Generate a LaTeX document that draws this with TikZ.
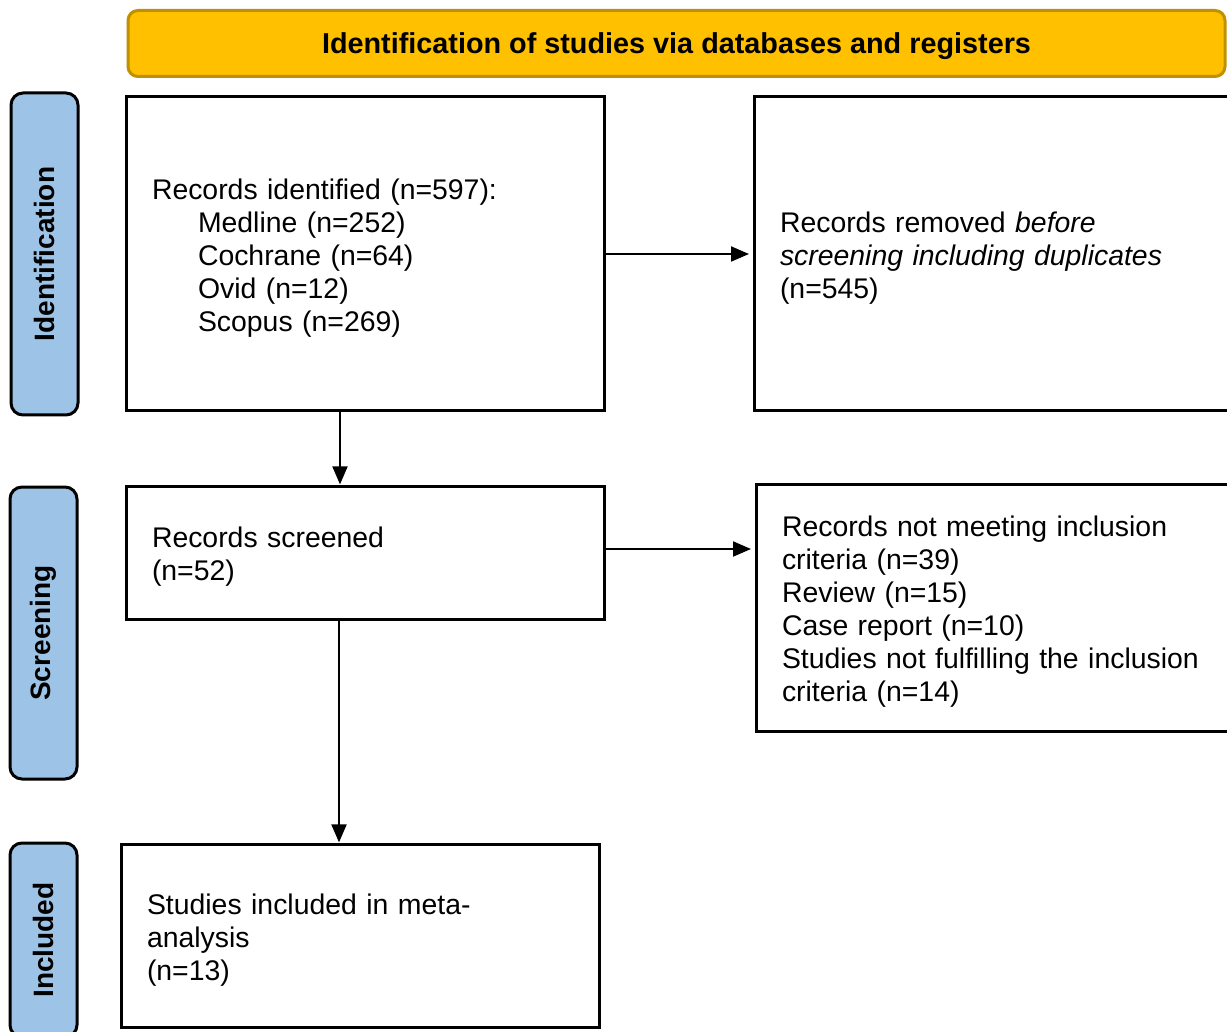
\documentclass[tikz,border=0pt]{standalone}
\usepackage{fontspec}
\setmainfont{Liberation Sans}
\usetikzlibrary{arrows.meta}
\definecolor{bannerfill}{HTML}{FFC000}
\definecolor{bannerdraw}{HTML}{BF9000}
\definecolor{sidefill}{HTML}{9DC3E6}
\begin{document}
\begin{tikzpicture}[x=0.5pt,y=-0.5pt,
  every node/.style={font=\fontsize{14.2}{16.5}\selectfont},
  box/.style={draw=black, line width=1.5pt, outer sep=0pt, anchor=north west,
    inner xsep=13pt, inner ysep=0pt, align=left,
    execute at begin node={\leavevmode\rule{0pt}{14.6pt}}},
  sidebar/.style={draw=black, fill=sidefill, line width=1.5pt, rounded corners=6pt,
    rotate=90, minimum height=33.5pt, inner sep=0pt,
    font=\fontsize{14}{16.5}\selectfont\bfseries},
  banner/.style={draw=bannerdraw, fill=bannerfill, line width=1.5pt, rounded corners=5pt,
    minimum width=548.5pt, minimum height=33pt, inner sep=0pt, text depth=0pt,
    font=\fontsize{14.4}{16.5}\selectfont\bfseries},
  arr/.style={line width=1pt, -{Triangle[length=9pt,width=7.5pt]}}
]
\clip (0,0) rectangle (1227,1032);
\fill[white] (0,0) rectangle (1227,1032);

\node[banner] (ban) at (676.5,43.5) {Identification of studies via databases and registers};

\node[sidebar, minimum width=161pt] (sid) at (44.5,254) {Identification};
\node[sidebar, minimum width=146pt] (ssc) at (43.5,633) {Screening};
\node[sidebar, minimum width=97pt] (sin) at (43.5,940) {Included};

\node[box, minimum width=239pt, minimum height=157pt, text width=213pt] (b1) at (126,97)
  {Records identified (n=597):\\
   \hspace*{23pt}Medline (n=252)\\
   \hspace*{23pt}Cochrane (n=64)\\
   \hspace*{23pt}Ovid (n=12)\\
   \hspace*{23pt}Scopus (n=269)};

\node[box, minimum width=245.5pt, minimum height=157pt, text width=219.5pt] (b2) at (754,97)
  {Records removed \textit{before}\\
   \textit{screening including duplicates}\\
   (n=545)};

\node[box, minimum width=239pt, minimum height=66.5pt, text width=213pt] (b3) at (126,486)
  {Records screened\\(n=52)};

\node[box, minimum width=244.5pt, minimum height=123.5pt, text width=218.5pt] (b4) at (756,484)
  {Records not meeting inclusion\\
   criteria (n=39)\\
   Review (n=15)\\
   Case report (n=10)\\
   Studies not fulfilling the inclusion\\
   criteria (n=14)};

\node[box, minimum width=239pt, minimum height=91.5pt, text width=213pt] (b5) at (121,844)
  {Studies included in meta-\\analysis\\(n=13)};

\coordinate (ax1) at (340,0);
\coordinate (ax2) at (339,0);
\coordinate (ay2) at (0,549);

\draw[arr, shorten >=2.5pt] (b1.east) -- (b1.east -| b2.west);
\draw[arr, shorten >=2.5pt] (b3.east |- ay2) -- (b4.west |- ay2);
\draw[arr, shorten >=0.8pt] (b1.south -| ax1) -- (b3.north -| ax1);
\draw[arr, shorten >=0.8pt] (b3.south -| ax2) -- (b5.north -| ax2);
\end{tikzpicture}
\end{document}
